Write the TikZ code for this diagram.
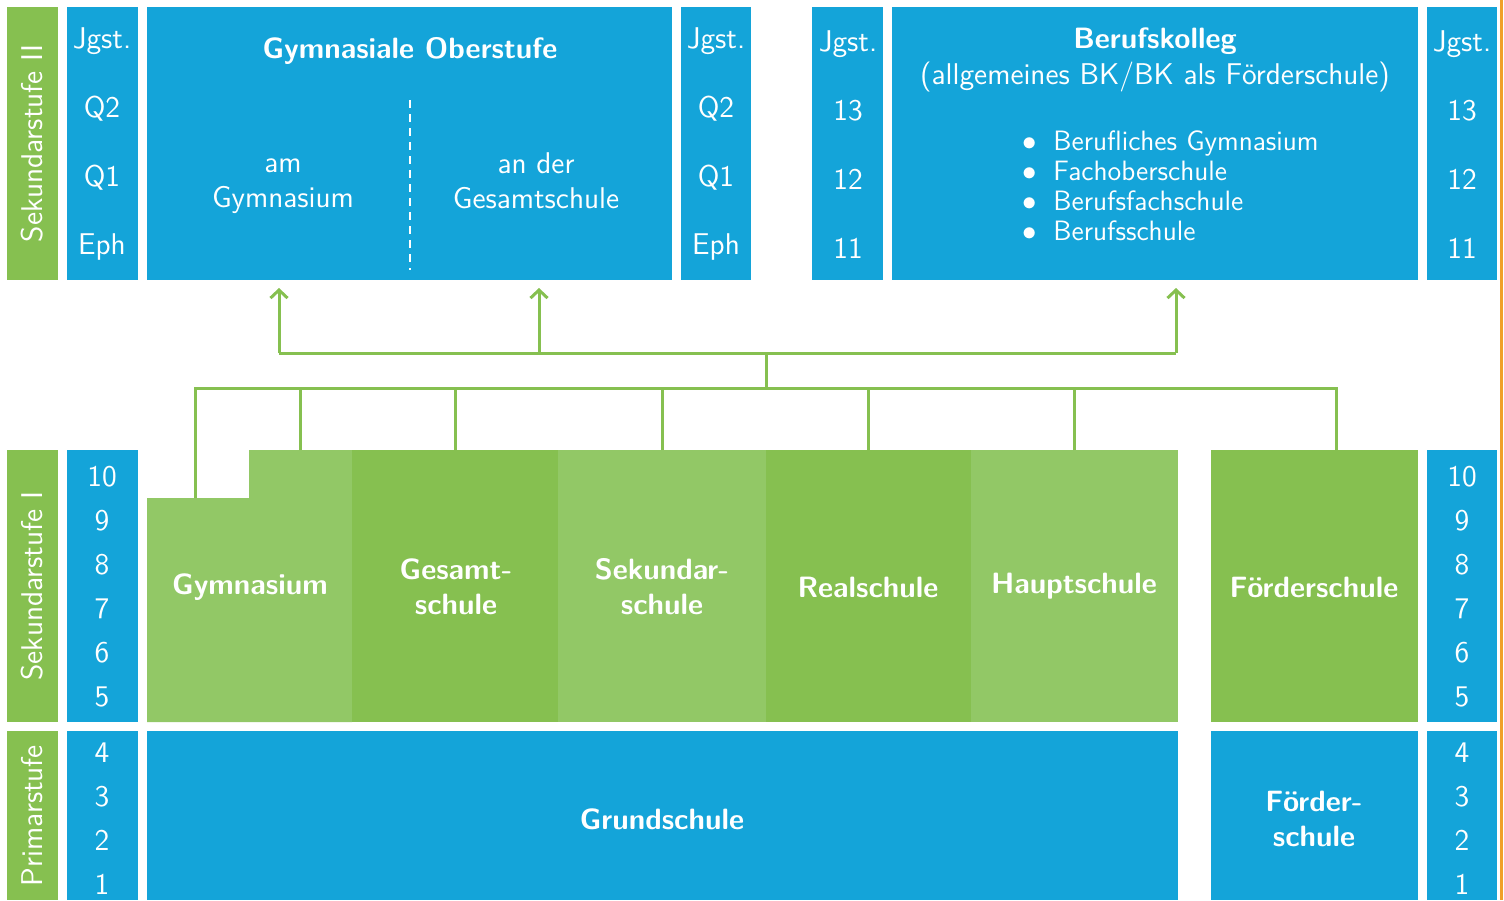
\documentclass[tikz,border=0pt]{standalone}
\usepackage{fontspec}
\usetikzlibrary{fit,arrows.meta}
\definecolor{bl}{RGB}{20,164,217}
\definecolor{lg}{RGB}{146,200,102}
\definecolor{dg}{RGB}{134,192,80}
\definecolor{org}{RGB}{240,160,40}
\tikzset{
  fbox/.style={inner sep=0pt, outer sep=0pt, draw=none},
  wt/.style={text=white, inner sep=0pt},
  lbl/.style={wt, rotate=90},
  num/.style={wt, anchor=base},
  ttl/.style={wt, font=\sffamily\bfseries\fontsize{14.7}{17.5}\selectfont, align=center},
  conn/.style={draw=dg, line width=1.5pt},
  arr/.style={conn, -{Straight Barb[length=4pt,width=8.5pt,line width=1.5pt]}, shorten >=4pt},
  itm/.style={wt, font=\sffamily\fontsize{14}{17}\selectfont},
}
\begin{document}
\begin{tikzpicture}[x=0.5pt,y=-0.5pt, font=\sffamily\fontsize{15}{17.5}\selectfont]
\useasboundingbox (0,0) rectangle (1504,900);
% ---------- Sekundarstufe II ----------
\node[fbox, fill=dg, fit={(7,7)(58,280)}] (sek2) {};
\node[lbl] at (sek2.center) {Sekundarstufe II};
\node[fbox, fill=bl, fit={(67,7)(138,280)}] (j1) {};
\node[num] at (102,48) {Jgst.};
\node[num] at (102,117) {Q2};
\node[num] at (102,186) {Q1};
\node[num] at (102,254) {Eph};
\node[fbox, fill=bl, fit={(147,7)(672,280)}] (gos) {};
\node[ttl] at (410,51) {Gymnasiale Oberstufe};
\draw[white, line width=0.8pt, dash pattern=on 4pt off 3pt] (410,100) -- (410,270);
\node[num] at (283,172) {am};
\node[num] at (283,207) {Gymnasium};
\node[num] at (536,173) {an der};
\node[num] at (536,208) {Gesamtschule};
\node[fbox, fill=bl, fit={(681,7)(751,280)}] (j2) {};
\node[num] at (716,48) {Jgst.};
\node[num] at (716,117) {Q2};
\node[num] at (716,186) {Q1};
\node[num] at (716,254) {Eph};
% ---------- Berufskolleg ----------
\node[fbox, fill=bl, fit={(812,7)(883,280)}] (j3) {};
\node[num] at (848,51) {Jgst.};
\node[num] at (848,120) {13};
\node[num] at (848,189) {12};
\node[num] at (848,258) {11};
\node[fbox, fill=bl, fit={(892,7)(1418,280)}] (bk) {};
\node[ttl] at (1155,41) {Berufskolleg};
\node[wt] at (1155,77) {(allgemeines BK/BK als Förderschule)};
\foreach \t [count=\i] in {Berufliches Gymnasium,Fachoberschule,Berufsfachschule,Berufsschule}{
  \node[itm, anchor=base west] at (1053,120+30*\i) {\t};
  \node[itm, anchor=base] at (1030,120+30*\i) {$\bullet$};
}
\node[fbox, fill=bl, fit={(1427,7)(1497,280)}] (j4) {};
\node[num] at (1462,51) {Jgst.};
\node[num] at (1462,120) {13};
\node[num] at (1462,189) {12};
\node[num] at (1462,258) {11};
% ---------- Sekundarstufe I ----------
\node[fbox, fill=dg, fit={(7,450)(58,722)}] (sek1) {};
\node[lbl] at (sek1.center) {Sekundarstufe I};
\node[fbox, fill=bl, fit={(67,450)(138,722)}] (n1) {};
\node[fbox, fill=bl, fit={(1427,450)(1497,722)}] (n2) {};
\foreach \n [count=\i from 0] in {10,9,8,7,6,5}{
  \node[num] at (102,486+44*\i) {\n};
  \node[num] at (1462,486+44*\i) {\n};
}
\fill[lg] (147,498) -- (249,498) -- (249,450) -- (352,450) -- (352,722) -- (147,722) -- cycle;
\node[fbox, fit={(249,450)(352,722)}] (gymup) {};
\coordinate (gymlow) at (195,498);
\node[ttl] at (250,587) {Gymnasium};
\node[fbox, fill=dg, fit={(352,450)(558,722)}] (ges) {};
\node[ttl] at (456,587) {Gesamt-\\schule};
\node[fbox, fill=lg, fit={(558,450)(766,722)}] (sek) {};
\node[ttl] at (662,587) {Sekundar-\\schule};
\node[fbox, fill=dg, fit={(766,450)(971,722)}] (real) {};
\node[ttl] at (868,587) {Realschule};
\node[fbox, fill=lg, fit={(971,450)(1178,722)}] (haupt) {};
\node[ttl] at (1074,586) {Hauptschule};
\node[fbox, fill=dg, fit={(1211,450)(1418,722)}] (foe) {};
\node[ttl] at (1314,587) {Förderschule};
\coordinate (foetop) at (1336,450);
% ---------- Primarstufe ----------
\node[fbox, fill=dg, fit={(7,731)(58,900)}] (prim) {};
\node[lbl] at (prim.center) {Primarstufe};
\node[fbox, fill=bl, fit={(67,731)(138,900)}] (n3) {};
\node[fbox, fill=bl, fit={(1427,731)(1497,900)}] (n4) {};
\foreach \n [count=\i from 0] in {4,3,2,1}{
  \node[num] at (102,762+44*\i) {\n};
  \node[num] at (1462,762+44*\i) {\n};
}
\node[fbox, fill=bl, fit={(147,731)(1178,900)}] (grund) {};
\node[ttl] at (662,819) {Grundschule};
\node[fbox, fill=bl, fit={(1211,731)(1418,900)}] (foe2) {};
\node[ttl] at (1314,819) {Förder-\\schule};
% ---------- connectors ----------
\coordinate (bl) at (195,388);
\coordinate (br) at (1336,388);
\coordinate (hubB) at (766,388);
\coordinate (hubT) at (766,353);
\coordinate (tl) at (279,353);
\coordinate (tm) at (539,353);
\coordinate (tr) at (1176,353);
\draw[conn] (gymlow) -- (bl) -- (br) -- (foetop);
\foreach \b in {gymup,ges,sek,real,haupt}{
  \draw[conn] (\b.north) -- (\b.north |- bl);
}
\draw[conn] (hubB) -- (hubT);
\draw[conn] (tl) -- (tr);
\draw[arr] (tl) -- (tl |- gos.south);
\draw[arr] (tm) -- (tm |- gos.south);
\draw[arr] (tr) -- (tr |- bk.south);
% right edge line
\fill[org] (1500,0) rectangle (1503,900);
\end{tikzpicture}
\end{document}
